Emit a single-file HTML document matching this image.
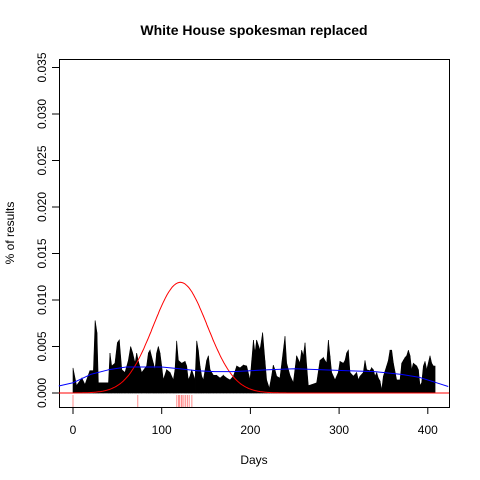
<!DOCTYPE html>
<html><head><meta charset="utf-8"><style>
html,body{margin:0;padding:0;background:#fff}
svg{display:block;font-family:"Liberation Sans",Arial,sans-serif}
</style></head><body>
<svg id="chart" width="480" height="480" viewBox="0 0 480 480">
<rect width="480" height="480" fill="#fff"/>
<text x="254" y="35" text-anchor="middle" font-size="14" font-weight="bold">White House spokesman replaced</text>
<text x="254" y="464" text-anchor="middle" font-size="12">Days</text>
<text x="0" y="0" transform="translate(14,233) rotate(-90)" text-anchor="middle" font-size="12">% of results</text>
<g id="bars"></g>
<g id="rug"></g>
<g id="axes"></g>
<rect x="59.5" y="59.5" width="390" height="348" fill="none" stroke="#000" stroke-width="1"/>
</svg>
<script>
const barDays=[0,4,10,13.5,19,23,25,27,28.6,34,40,41.7,43.6,47.3,50,52.2,55,58.6,62.4,65,67.3,70,71.8,73.7,77.4,83,85,86.8,90.6,92.4,94.3,96.2,98.1,100,101.8,105.6,109.4,113.1,115,116.9,118.8,122.5,126.3,128.2,130,131.9,133.8,137.6,139.5,141.3,143.2,145.1,147,150.7,152.6,154.5,158.3,162,165.8,169.5,173.3,177,180.8,184.6,188.3,192.1,195.8,199.6,201.5,203.4,205.2,207,210.8,213.8,216.4,218.3,221.3,223.9,225.8,227.7,229.6,233.3,237.1,239,240.9,244.6,248.4,252.1,255.9,257.8,259.7,261.6,263.5,265.3,269.1,274.7,278.5,282.2,286,287.9,289.7,291.6,295.4,299.1,301,304.8,306.7,308.5,310.4,312.3,316.1,319.8,321.7,323.6,327.3,329.2,331.1,334.8,336.7,338.6,340.5,342.4,344.2,346.1,348,349.9,353.6,355.5,357.4,359.3,361.2,364.9,368.7,370.6,372.4,374.3,376.2,378.1,380,381.8,383.7,387.5,389.4,391.2,393.1,395,396.9,398.8,402.5,404.4,406.3];
const barValues=[.0027,.0008,.0016,.0009,.0024,.0024,.0078,.0065,.0011,.0011,.0011,.0043,.0029,.0032,.0054,.0057,.0025,.0022,.0035,.0050,.0043,.0032,.0043,.0034,.0022,.0029,.0043,.0046,.0032,.0025,.0043,.0050,.0043,.0029,.0014,.0025,.0022,.0014,.0025,.0056,.0035,.0032,.0034,.0029,.0014,.0018,.0025,.0014,.0056,.0046,.0029,.0018,.0014,.0035,.0040,.0025,.0019,.0019,.0016,.0019,.0016,.0014,.0018,.0029,.0027,.0030,.0029,.0014,.0035,.0057,.0043,.0057,.0046,.0065,.0035,.0014,.0005,.0018,.0030,.0025,.0018,.0016,.0046,.0061,.0032,.0019,.0011,.0040,.0032,.0046,.0040,.0054,.0029,.0008,.0009,.0011,.0035,.0038,.0032,.0057,.0040,.0022,.0014,.0022,.0034,.0032,.0035,.0043,.0046,.0022,.0018,.0022,.0014,.0018,.0022,.0035,.0025,.0024,.0027,.0025,.0018,.0022,.0016,.0013,.0003,.0018,.0029,.0035,.0046,.0046,.0032,.0014,.0014,.0032,.0035,.0038,.0040,.0046,.0040,.0025,.0032,.0029,.0025,.0008,.0011,.0029,.0034,.0025,.0040,.0032,.0029];
const trendDays=[-16,0,20,40,60,80,100,120,140,160,180,200,220,250,280,310,340,370,390,410,423];
const trendValues=[.00075,.0011,.0020,.0025,.0028,.0028,.0028,.0026,.0024,.0023,.0023,.0024,.0025,.0026,.0025,.0024,.0023,.0020,.0017,.0011,.0007];
const peakCenter=121, peakSd=30.5, peakHeight=0.0119;
const rugDays=[0,73,117,119,120,122,123,125,127,129,131,134];
const xTicks=[0,100,200,300,400];
const yTicks=[0,0.005,0.010,0.015,0.020,0.025,0.030,0.035];
const yTickLabels=["0.000","0.005","0.010","0.015","0.020","0.025","0.030","0.035"];

const NS="http://www.w3.org/2000/svg";
const X=d=>73+d*0.887;
const Y=v=>393-v*9300;
function mk(tag,attrs,parent){const e=document.createElementNS(NS,tag);for(const k in attrs)e.setAttribute(k,attrs[k]);parent.appendChild(e);return e;}
const svg=document.getElementById('chart');
const bars=document.getElementById('bars');
const axes=document.getElementById('axes');
const rug=document.getElementById('rug');

let bl=mk('line',{x1:59,x2:449,y1:Y(0),y2:Y(0),stroke:'#999','stroke-width':1},bars);



for(let i=0;i<barDays.length;i++){
  const x0=X(barDays[i]);
  const last=i===barDays.length-1;
  const x1=last?X(barDays[i]+1.9):X(barDays[i+1]);
  const v1=last?barValues[i]:barValues[i+1];
  const b=Y(0);
  const p=mk('polygon',{points:x0+','+b+' '+x0+','+Y(barValues[i])+' '+x1+','+Y(v1)+' '+x1+','+b,fill:'#000',stroke:'#000','stroke-width':0.6},bars);
  
  
}

let pts=[];
for(let d=-16;d<=424;d+=1){pts.push(X(d).toFixed(1)+','+Y(peakHeight*Math.exp(-0.5*Math.pow((d-peakCenter)/peakSd,2))).toFixed(1));}
const red=mk('polyline',{points:pts.join(' '),fill:'none',stroke:'#f00','stroke-width':1},svg);



const tp=trendDays.map((d,i)=>X(d).toFixed(1)+','+Y(trendValues[i]).toFixed(1)).join(' ');
const blue=mk('polyline',{points:tp,fill:'none',stroke:'#00f','stroke-width':1,'stroke-linejoin':'round'},svg);



rugDays.forEach(d=>{
  const l=mk('line',{x1:X(d),x2:X(d),y1:395,y2:407,stroke:'#f44','stroke-width':1,opacity:0.6},rug);
  
  
});

const xa=mk('line',{x1:X(0),x2:X(400),y1:407.5,y2:407.5,stroke:'#000'},axes);


xTicks.forEach(t=>{
  const l=mk('line',{x1:X(t),x2:X(t),y1:407,y2:414,stroke:'#000'},axes);
  
  
  const tx=mk('text',{x:X(t),y:434,'text-anchor':'middle','font-size':12},axes);
  tx.textContent=t;
  
  
});
yTicks.forEach((t,i)=>{
  const l=mk('line',{x1:52,x2:59,y1:Y(t),y2:Y(t),stroke:'#000'},axes);
  
  
  const tx=mk('text',{x:0,y:0,transform:'translate(46,'+Y(t)+') rotate(-90)','text-anchor':'middle','font-size':12},axes);
  tx.textContent=yTickLabels[i];
  
  
});
const ya=mk('line',{x1:59.5,x2:59.5,y1:Y(0),y2:Y(0.035),stroke:'#000'},axes);


</script>
</body></html>
